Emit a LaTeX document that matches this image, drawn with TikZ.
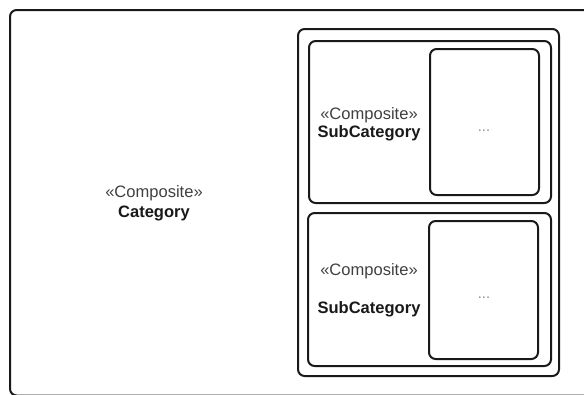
\documentclass[tikz,border=0pt]{standalone}
\usepackage{fontspec}
\setmainfont{Liberation Sans}
\usetikzlibrary{positioning, fit}

\begin{document}
\begin{tikzpicture}[
    x=0.75pt, y=-0.75pt,
    frame/.style={rectangle, draw=black!90, line width=1.5pt, rounded corners=5pt, inner sep=0pt},
    stereo/.style={font=\fontsize{12.4}{14}\selectfont, text=black!75, inner sep=0pt},
    classname/.style={font=\fontsize{12.4}{14}\selectfont\bfseries, text=black!90, inner sep=0pt},
    dots/.style={font=\fontsize{11}{12}\selectfont, text=black!45, inner sep=0pt}
]
    \useasboundingbox (0,0) rectangle (584,394);
    \clip (0,0) rectangle (584,394);

    % Boxes
    \node[frame, fit={(10,10) (620,395.5)}] (category) {};
    \node[frame, fit={(298,29) (559,376)}] (container) {};
    \node[frame, fit={(309,41) (551,203)}] (sub1) {};
    \node[frame, fit={(430,49) (539,195)}] (part1) {};
    \node[frame, fit={(308,213) (551,366)}] (sub2) {};
    \node[frame, fit={(429,221) (538,359)}] (part2) {};

    % Labels
    \node[stereo] (catstereo) at (154,193) {«Composite»};
    \node[classname] (catname) at (154,213) {Category};
    \node[stereo] (sub1stereo) at (369,115) {«Composite»};
    \node[classname] (sub1name) at (369,133) {SubCategory};
    \node[dots] (dots1) at (484,131) {...};
    \node[stereo] (sub2stereo) at (369,271) {«Composite»};
    \node[classname] (sub2name) at (369,309) {SubCategory};
    \node[dots] (dots2) at (484,298) {...};
\end{tikzpicture}
\end{document}
